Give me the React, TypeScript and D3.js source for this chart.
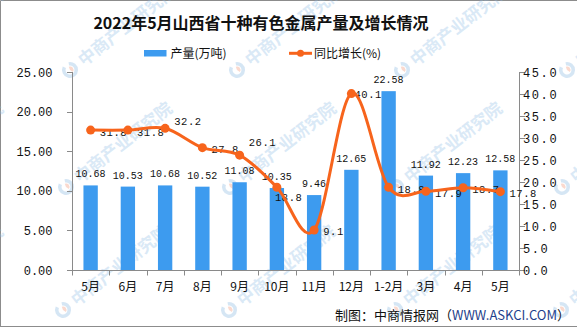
import React from 'react';
import * as d3 from 'd3';

const categories = ['5月', '6月', '7月', '8月', '9月', '10月', '11月', '12月', '1-2月', '3月', '4月', '5月'];
const output = [10.68, 10.53, 10.68, 10.52, 11.08, 10.35, 9.46, 12.65, 22.58, 11.92, 12.23, 12.58];
const growth = [31.8, 31.8, 32.2, 27.8, 26.1, 18.8, 9.1, 40.1, 18.8, 17.9, 18.7, 17.8];
const leftTicks = [0, 5, 10, 15, 20, 25];
const rightTicks = [0, 5, 10, 15, 20, 25, 30, 35, 40, 45];

const W = 577;
const H = 328;
const M = { left: 72, right: 519, top: 72, bottom: 270 };
const BLUE = '#3D9BEF';
const ORANGE = '#F7641C';
const AXIS = '#8a8a8a';
const MONO = '"Liberation Mono", "DejaVu Sans Mono", monospace';
const CJK = '"Noto Sans CJK SC", "Noto Sans", sans-serif';

// label nudges (px) for the growth labels
const lineLabelNudge: Record<number, [number, number]> = {
  2: [0, -7],
  4: [0, -13],
  5: [-11, 10],
  7: [-6, 0],
};

const wmRows: [number, number[]][] = [
  [70, [-97, 70, 237, 402, 567]],
  [187, [-103, 66, 230, 396, 562]],
  [310, [-103, 63, 229, 395, 561]],
];

function Watermark({ x, y }: { x: number; y: number }) {
  const r = 8;
  return (
    <g transform={`translate(${x},${y}) rotate(-38)`} opacity={0.32}>
      <path
        d={d3.arc()({ innerRadius: r - 3.5, outerRadius: r, startAngle: Math.PI * 0.15, endAngle: Math.PI * 1.85 }) as string}
        fill="#7fb2e0"
      />
      <path
        d={d3.arc()({ innerRadius: 0, outerRadius: r - 4.5, startAngle: Math.PI * 0.1, endAngle: Math.PI * 0.9 }) as string}
        fill="#f08c6a"
      />
      <text x={13} y={6} fontFamily={CJK} fontSize={17} fontWeight={700} fill="#8dbce6">
        中商产业研究院
      </text>
    </g>
  );
}

export default function App() {
  const x = d3.scaleBand<number>().domain(d3.range(categories.length)).range([M.left, M.right]).padding(0);
  const yL = d3.scaleLinear().domain([0, 25]).range([M.bottom, M.top]);
  const yR = d3.scaleLinear().domain([0, 45]).range([M.bottom, M.top]);
  const bw = x.bandwidth() * 0.385;
  const cx = (i: number) => (x(i) as number) + x.bandwidth() / 2;

  const line = d3
    .line<number>()
    .x((_, i) => cx(i))
    .y((d) => yR(d))
    .curve(d3.curveCardinal.tension(0));

  const fmtL = d3.format('.2f');
  const fmtR = d3.format('.1f');

  return (
    <svg width={W} height={H} style={{ position: 'absolute', left: 0, top: 0, display: 'block', background: '#fff' }}>
      <rect x={0} y={0} width={W} height={H} fill="#fff" />
      {/* frame */}
      <path d={`M0.5,${H - 1.5}V0.5H${W}`} fill="none" stroke="#8c8c8c" strokeWidth={1} />
      <line x1={0} x2={W} y1={H - 1.5} y2={H - 1.5} stroke="#8c8c8c" strokeWidth={1} />

      {/* watermark */}
      {wmRows.map(([wy, xs], ri) => xs.map((wx, ci) => <Watermark key={`${ri}-${ci}`} x={wx} y={wy} />))}

      {/* title */}
      <text x={261} y={29} textAnchor="middle" fontFamily={CJK} fontSize={16} fontWeight={700} fill="#111">
        2022年5月山西省十种有色金属产量及增长情况
      </text>

      {/* legend */}
      <rect x={144} y={50} width={22.5} height={6.5} fill={BLUE} />
      <text x={170.5} y={57.5} fontFamily={CJK} fontSize={12} fill="#111">
        产量(万吨)
      </text>
      <line x1={289} x2={312} y1={53.3} y2={53.3} stroke={ORANGE} strokeWidth={3} />
      <circle cx={300.5} cy={53.3} r={3.5} fill={ORANGE} />
      <text x={314} y={57.5} fontFamily={CJK} fontSize={12} fill="#111">
        同比增长(%)
      </text>

      {/* left axis */}
      <line x1={M.left + 0.5} x2={M.left + 0.5} y1={M.top} y2={M.bottom} stroke={AXIS} />
      {leftTicks.map((t) => (
        <g key={`l${t}`}>
          <line x1={M.left - 5} x2={M.left + 0.5} y1={Math.round(yL(t)) + 0.5} y2={Math.round(yL(t)) + 0.5} stroke={AXIS} />
          <text x={52.5} y={yL(t) + 4.5} textAnchor="end" fontFamily={MONO} fontSize={12} fill="#111">
            {fmtL(t)}
          </text>
        </g>
      ))}

      {/* right axis */}
      <line x1={M.right + 0.5} x2={M.right + 0.5} y1={M.top} y2={M.bottom} stroke={AXIS} />
      {rightTicks.map((t) => (
        <g key={`r${t}`}>
          <line x1={M.right} x2={M.right + 6} y1={Math.round(yR(t)) + 0.5} y2={Math.round(yR(t)) + 0.5} stroke={AXIS} />
          <text x={523} y={yR(t) + 4.5} fontFamily={MONO} fontSize={12} letterSpacing={1.6} fill="#111">
            {fmtR(t)}
          </text>
        </g>
      ))}

      {/* bars */}
      {output.map((v, i) => (
        <rect key={`b${i}`} x={cx(i) - bw / 2} y={yL(v)} width={bw} height={M.bottom - yL(v)} fill={BLUE} />
      ))}

      {/* x axis */}
      <line x1={M.left} x2={M.right + 0.5} y1={M.bottom + 0.5} y2={M.bottom + 0.5} stroke={AXIS} />
      {d3.range(categories.length + 1).map((i) => {
        const tx = Math.round(M.left + i * x.bandwidth()) + 0.5;
        return <line key={`xt${i}`} x1={tx} x2={tx} y1={M.bottom} y2={M.bottom + 5.5} stroke={AXIS} />;
      })}
      {categories.map((c, i) => (
        <text key={`xl${i}`} x={cx(i)} y={291} textAnchor="middle" fontFamily={CJK} fontSize={12} fill="#111">
          {c}
        </text>
      ))}

      {/* bar labels */}
      {output.map((v, i) => (
        <text key={`bl${i}`} x={cx(i)} y={yL(v) - 8} textAnchor="middle" fontFamily={MONO} fontSize={10} fill="#111">
          {fmtL(v)}
        </text>
      ))}

      {/* line labels */}
      {growth.map((v, i) => {
        const [dx, dy] = lineLabelNudge[i] || [0, 1.5];
        return (
          <text key={`ll${i}`} x={cx(i) + 9 + dx} y={yR(v) + 4 + dy} fontFamily={MONO} fontSize={10.5} letterSpacing={0.6} fill="#111">
            {fmtR(v)}
          </text>
        );
      })}

      {/* line */}
      <path d={line(growth) as string} fill="none" stroke={ORANGE} strokeWidth={3} strokeLinejoin="round" />
      {growth.map((v, i) => (
        <circle key={`p${i}`} cx={cx(i)} cy={yR(v)} r={4.5} fill={ORANGE} />
      ))}

      {/* footer */}
      <text x={570} y={319.5} textAnchor="end" fontFamily={CJK} fontSize={13} fill="#111">
        制图：中商情报网（<tspan fill="#1f3f8c">WWW.ASKCI.COM</tspan>）
      </text>
    </svg>
  );
}
